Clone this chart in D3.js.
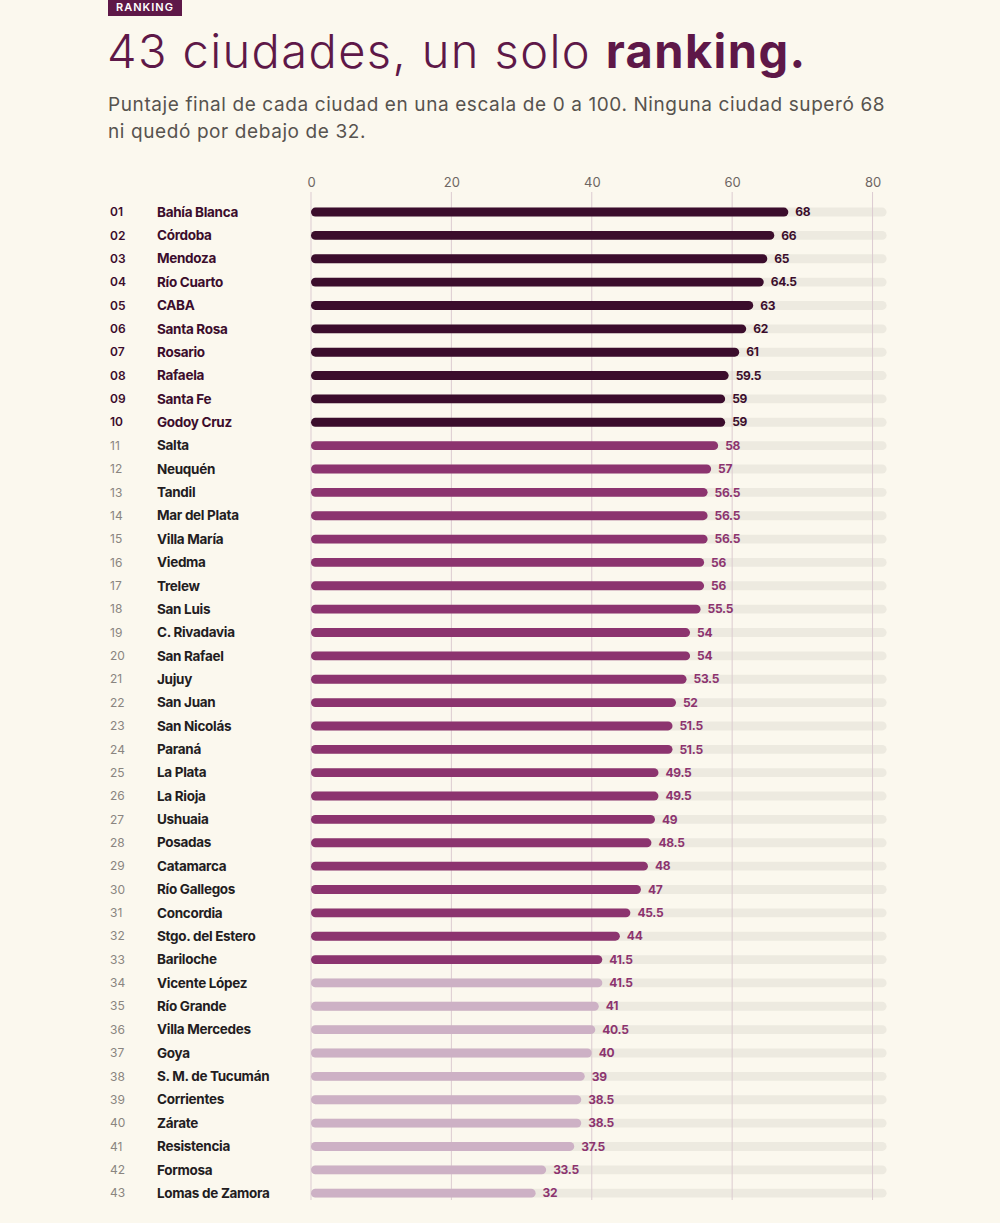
<!DOCTYPE html>
<html>
<head>
<meta charset="utf-8">
<script src="https://cdn.jsdelivr.net/npm/d3@7"></script>
<style>
  body { margin: 0; background: #fbf8ee; }
  svg { display: block; font-family: Inter, "Noto Sans", sans-serif; }
</style>
</head>
<body>
<div id="chart"></div>
<script>
// data
var cities = ["Bahía Blanca", "Córdoba", "Mendoza", "Río Cuarto", "CABA", "Santa Rosa", "Rosario", "Rafaela",
  "Santa Fe", "Godoy Cruz", "Salta", "Neuquén", "Tandil", "Mar del Plata", "Villa María", "Viedma", "Trelew",
  "San Luis", "C. Rivadavia", "San Rafael", "Jujuy", "San Juan", "San Nicolás", "Paraná", "La Plata",
  "La Rioja", "Ushuaia", "Posadas", "Catamarca", "Río Gallegos", "Concordia", "Stgo. del Estero", "Bariloche",
  "Vicente López", "Río Grande", "Villa Mercedes", "Goya", "S. M. de Tucumán", "Corrientes", "Zárate",
  "Resistencia", "Formosa", "Lomas de Zamora"];
var scores = [68, 66, 65, 64.5, 63, 62, 61, 59.5, 59, 59, 58, 57, 56.5, 56.5, 56.5, 56, 56, 55.5, 54, 54,
  53.5, 52, 51.5, 51.5, 49.5, 49.5, 49, 48.5, 48, 47, 45.5, 44, 41.5, 41.5, 41, 40.5, 40, 39, 38.5, 38.5,
  37.5, 33.5, 32];
var ticks = [0, 20, 40, 60, 80];
// tier boundaries: top 10, up to 33, rest
var tierEnds = [10, 33, 43];

var W = 1000, H = 1223;
var svg = d3.select("#chart").append("svg").attr("width", W).attr("height", H);

var dark = "#3b0d2c", mid = "#8c346f", light = "#cdb1c5";

// header
var pill = svg.append("g");
pill.append("rect").attr("x", 108).attr("y", -2).attr("width", 74).attr("height", 18).attr("fill", "#5e1848");
pill.append("text").attr("x", 145).attr("y", 11).attr("text-anchor", "middle")
  .attr("fill", "#fff").attr("font-size", 11).attr("font-weight", 600).attr("letter-spacing", 1)
  .text("RANKING");

var title = svg.append("text").attr("x", 107).attr("y", 68).attr("font-size", 47)
  .attr("fill", "#5e1848").attr("font-weight", 300).attr("letter-spacing", 1.4);
title.append("tspan").text("43 ciudades, un solo ");
title.append("tspan").attr("font-weight", 700).text("ranking.");

var sub = ["Puntaje final de cada ciudad en una escala de 0 a 100. Ninguna ciudad superó 68",
  "ni quedó por debajo de 32."];
svg.selectAll(".sub").data(sub).enter().append("text")
  .attr("x", 108).attr("y", (d, i) => 111 + i * 27)
  .attr("font-size", 19).attr("fill", "#57534f").attr("letter-spacing", 0.6)
  .text(d => d);

// scales
var x = d3.scaleLinear().domain([0, 82]).range([311, 886.6]);
var y = d3.scaleBand().domain(d3.range(cities.length)).range([193.1, 1212.1]).padding(0.62);

function tier(i) {
  return i < tierEnds[0] ? 0 : (i < tierEnds[1] ? 1 : 2);
}
var barColor = [dark, mid, light];
var valColor = [dark, mid, mid];

// tracks
svg.append("g").selectAll("rect").data(scores).enter().append("rect")
  .attr("x", x(0)).attr("y", (d, i) => y(i))
  .attr("width", x(82) - x(0)).attr("height", y.bandwidth())
  .attr("rx", y.bandwidth() / 2).attr("fill", "#edeae0");

// grid + axis
var axis = svg.append("g").attr("transform", "translate(0,190)")
  .call(d3.axisTop(x).tickValues(ticks).tickSize(0).tickPadding(3));
axis.select(".domain").remove();
axis.selectAll("text").attr("font-size", 13).attr("fill", "#6e6663")
  .attr("font-family", "Inter, sans-serif");
svg.append("g").selectAll("line").data(ticks).enter().append("line")
  .attr("x1", d => x(d)).attr("x2", d => x(d))
  .attr("y1", 192).attr("y2", 1200)
  .attr("stroke", "#dccbd1").attr("stroke-width", 1);

// bars
svg.append("g").selectAll("rect").data(scores).enter().append("rect")
  .attr("x", x(0)).attr("y", (d, i) => y(i))
  .attr("width", d => x(d) - x(0)).attr("height", y.bandwidth())
  .attr("rx", y.bandwidth() / 2)
  .attr("fill", (d, i) => barColor[tier(i)]);

// value labels
svg.append("g").selectAll("text").data(scores).enter().append("text")
  .attr("x", d => x(d) + 7).attr("y", (d, i) => y(i) + y.bandwidth() / 2)
  .attr("dy", "0.35em").attr("font-size", 12).attr("font-weight", 700)
  .attr("letter-spacing", -0.3)
  .attr("fill", (d, i) => valColor[tier(i)])
  .text(d => d);

// rank + names
var rows = svg.append("g").selectAll("g").data(cities).enter().append("g")
  .attr("transform", (d, i) => "translate(0," + (y(i) + y.bandwidth() / 2) + ")");
rows.append("text").attr("x", 110).attr("dy", "0.35em").attr("font-size", 12)
  .attr("font-weight", (d, i) => tier(i) === 0 ? 600 : 400)
  .attr("fill", (d, i) => tier(i) === 0 ? dark : "#8a8580")
  .text((d, i) => d3.format("02")(i + 1));
rows.append("text").attr("x", 157).attr("dy", "0.35em").attr("font-size", 13.5)
  .attr("font-weight", 700).attr("letter-spacing", -0.3)
  .attr("fill", (d, i) => tier(i) === 0 ? dark : "#231d1f")
  .text(d => d);
</script>
</body>
</html>
